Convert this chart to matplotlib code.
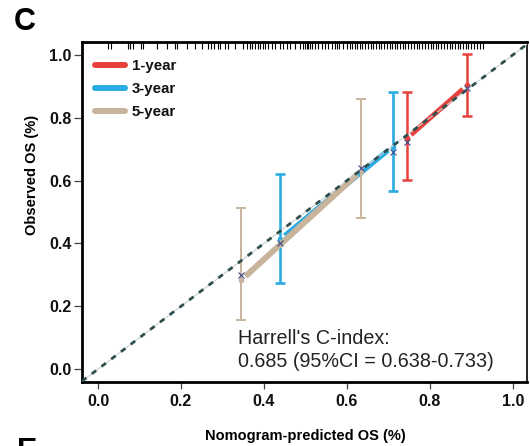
import numpy as np
import matplotlib
matplotlib.use("Agg")
import matplotlib.pyplot as plt
from matplotlib import font_manager as fm

# ---------------- data ----------------
series = ["1-year", "3-year", "5-year"]
colors = ["#E8413C", "#2AACE2", "#C8B49C"]

pred_1y = [0.744, 0.890]
obs_1y = [0.734, 0.903]
lo_1y = [0.602, 0.806]
hi_1y = [0.881, 1.002]
corr_1y = [0.724, 0.894]

pred_3y = [0.439, 0.710]
obs_3y = [0.413, 0.708]
lo_3y = [0.273, 0.567]
hi_3y = [0.620, 0.883]
corr_3y = [0.400, 0.692]

pred_5y = [0.345, 0.635]
obs_5y = [0.283, 0.632]
lo_5y = [0.156, 0.482]
hi_5y = [0.514, 0.859]
corr_5y = [0.299, 0.639]

rug = [0.024, 0.031, 0.072, 0.077, 0.084, 0.104, 0.108, 0.142, 0.166, 0.186,
       0.190, 0.214, 0.234, 0.251, 0.265, 0.272, 0.280, 0.289,
       0.294, 0.306, 0.313, 0.330, 0.349, 0.359, 0.366, 0.371, 0.378, 0.386,
       0.390, 0.398, 0.402, 0.410, 0.419, 0.427, 0.439, 0.446, 0.455, 0.463,
       0.475, 0.487, 0.494, 0.499, 0.504, 0.506, 0.511, 0.516, 0.523, 0.530,
       0.540, 0.547, 0.554, 0.564, 0.571, 0.576, 0.581, 0.590, 0.600, 0.607,
       0.612, 0.619, 0.624, 0.631, 0.636, 0.643, 0.651, 0.658, 0.663, 0.670,
       0.677, 0.682, 0.689, 0.696, 0.704, 0.708, 0.716, 0.721, 0.728, 0.735,
       0.740, 0.747, 0.754, 0.761, 0.769, 0.773, 0.781, 0.788, 0.795, 0.802,
       0.807, 0.814, 0.819, 0.827, 0.834, 0.841, 0.848, 0.853, 0.860, 0.867,
       0.872, 0.880, 0.887, 0.892, 0.899, 0.906, 0.913, 0.920, 0.928]

ticks = [0.0, 0.2, 0.4, 0.6, 0.8, 1.0]
tick_labels = ["0.0", "0.2", "0.4", "0.6", "0.8", "1.0"]
xlabel = "Nomogram-predicted OS (%)"
ylabel = "Observed OS (%)"
cindex_text = ["Harrell's C-index:", "0.685 (95%CI = 0.638-0.733)"]

# ---------------- fonts ----------------
names = {f.name for f in fm.fontManager.ttflist}
bold_family = ["Liberation Sans Narrow", "Liberation Sans", "DejaVu Sans"] \
    if "Liberation Sans Narrow" in names else ["Liberation Sans", "DejaVu Sans"]
reg_family = ["Liberation Sans", "DejaVu Sans"]
plt.rcParams["font.family"] = reg_family

fig = plt.figure(figsize=(5.30, 4.46), dpi=100)
ax = fig.add_axes([0.1547, 0.1435, 0.8396, 0.7623])
ax.set_xlim(-0.0386, 1.034)
ax.set_ylim(-0.041, 1.041)

# diagonal reference
ax.axline((0, 0), slope=1, color="#C8D0D0", lw=0.8, zorder=4)
ax.axline((0, 0), slope=1, color="#2F4F4F", lw=2.0, dashes=(2.0, 2.4), zorder=5)

groups = [
    (pred_1y, obs_1y, lo_1y, hi_1y, corr_1y),
    (pred_3y, obs_3y, lo_3y, hi_3y, corr_3y),
    (pred_5y, obs_5y, lo_5y, hi_5y, corr_5y),
]
line_w = [3.6, 3.6, 4.3]
err_w = [1.8, 1.9, 1.4]
gap = 0.016
for (px, py, lo, hi, cy), col, lw, ew, name in zip(groups, colors, line_w, err_w, series):
    px = np.asarray(px); py = np.asarray(py)
    lo = np.asarray(lo); hi = np.asarray(hi)
    # connecting line with small gaps at points (type="b")
    d = np.array([px[1] - px[0], py[1] - py[0]])
    u = d / np.hypot(*d)
    ax.plot([px[0] + gap * u[0], px[1] - gap * u[0]],
            [py[0] + gap * u[1], py[1] - gap * u[1]],
            color=col, lw=lw, solid_capstyle="butt", zorder=3)
    ax.errorbar(px, py, yerr=[py - lo, hi - py], fmt="none", ecolor=col,
                elinewidth=ew, capsize=3.4, capthick=ew, zorder=3)
    ax.plot(px, py, "o", color=col, ms=4, mec="none", zorder=3)
    ax.plot(px, cy, "x", color="#3C4A8C", ms=5, mew=0.8, zorder=6)
    ax.plot([], [], color=col, lw=4.3, label=name, solid_capstyle="round")

# rug
ax.vlines(rug, 1 - 7 / 340, 1, transform=ax.get_xaxis_transform(),
          color="black", lw=0.8, zorder=6)

# annotation
ax.text(0.337, 0.080, cindex_text[0], fontsize=14.2, family=reg_family,
        va="baseline", ha="left", color="#222222")
ax.text(0.337, 0.006, cindex_text[1], fontsize=14.2, family=reg_family,
        va="baseline", ha="left", color="#222222")

# legend
leg = ax.legend(loc="upper left", bbox_to_anchor=(0.030, 0.950), frameon=False,
                handlelength=2.0, handletextpad=0.45, labelspacing=0.6,
                borderaxespad=0, borderpad=0,
                prop=fm.FontProperties(family=bold_family, weight="bold", size=10.8))
for t in leg.get_texts():
    t.set_color("#111111")

# axes styling
ax.set_xticks(ticks)
ax.set_xticklabels(tick_labels)
ax.set_yticks(ticks)
ax.set_yticklabels(tick_labels)
for lab in ax.get_xticklabels() + ax.get_yticklabels():
    lab.set_fontproperties(fm.FontProperties(family=bold_family, weight="bold", size=11.5))
    lab.set_color("#111111")
ax.tick_params(axis="x", length=5, width=0.9, color="#444444", pad=4)
ax.tick_params(axis="y", length=6, width=0.9, color="#444444", pad=1.5)
for s in ["left", "bottom", "top"]:
    ax.spines[s].set_linewidth(2.0)
ax.spines["right"].set_linewidth(1.2)

fig.text(305 / 530, 1 - 436 / 446, xlabel, ha="center", va="center",
         fontproperties=fm.FontProperties(family=bold_family, weight="bold", size=10.5))
fig.text(32 / 530, 1 - 175 / 446, ylabel, ha="center", va="center", rotation=90,
         fontproperties=fm.FontProperties(family=bold_family, weight="bold", size=10.5))

fig.text(25 / 530, 1 - 22 / 446, "C", ha="center", va="center",
         fontproperties=fm.FontProperties(family=["Liberation Sans"], weight="bold", size=22))
fig.text(27 / 530, 1 - 437 / 446, "E", ha="center", va="top",
         fontproperties=fm.FontProperties(family=["Liberation Sans"], weight="bold", size=22))

fig.savefig("out.png", dpi=100)
